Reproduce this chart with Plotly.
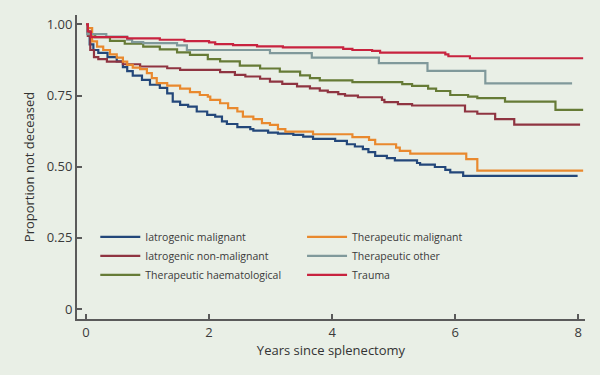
import plotly.graph_objects as go

# ---- data ----
names = ["Iatrogenic malignant", "Iatrogenic non-malignant", "Therapeutic haematological",
         "Therapeutic malignant", "Therapeutic other", "Trauma"]
colors = ["#23477a", "#8f3441", "#667b36", "#e9892e", "#80999b", "#c8233f"]

t_iat_mal = [0, 0.02, 0.06, 0.12, 0.2, 0.35, 0.5, 0.6, 0.67, 0.76, 0.91, 1.04, 1.2, 1.32, 1.41, 1.53,
             1.66, 1.8, 1.97, 2.1, 2.21, 2.29, 2.46, 2.67, 2.72, 2.96, 3.12, 3.37, 3.53, 3.69, 4.05,
             4.24, 4.37, 4.5, 4.59, 4.7, 4.89, 5.02, 5.38, 5.43, 5.67, 5.84, 5.92, 6.13, 7.99]
s_iat_mal = [1.0, 0.975, 0.93, 0.91, 0.9, 0.885, 0.87, 0.85, 0.836, 0.82, 0.805, 0.788, 0.777, 0.758,
             0.729, 0.717, 0.711, 0.694, 0.682, 0.676, 0.659, 0.65, 0.639, 0.632, 0.627, 0.62, 0.616,
             0.612, 0.606, 0.598, 0.591, 0.579, 0.571, 0.562, 0.551, 0.538, 0.53, 0.522, 0.513, 0.507,
             0.499, 0.489, 0.48, 0.468, 0.468]

t_iat_non = [0, 0.03, 0.07, 0.13, 0.2, 0.34, 0.6, 0.88, 1.32, 1.53, 2.18, 2.42, 2.59, 2.83, 2.99, 3.19,
             3.43, 3.64, 3.8, 3.93, 4.1, 4.21, 4.42, 4.81, 4.85, 5.07, 5.3, 6.16, 6.36, 6.65, 6.96, 8.03]
s_iat_non = [1.0, 0.96, 0.91, 0.885, 0.878, 0.869, 0.86, 0.852, 0.846, 0.84, 0.832, 0.823, 0.817, 0.809,
             0.799, 0.791, 0.782, 0.775, 0.767, 0.762, 0.755, 0.75, 0.744, 0.735, 0.727, 0.72, 0.715,
             0.694, 0.686, 0.667, 0.648, 0.648]

t_ther_haem = [0, 0.03, 0.07, 0.15, 0.39, 0.63, 0.93, 1.2, 1.48, 1.69, 1.98, 2.18, 2.5, 2.83, 3.15,
               3.48, 3.64, 3.8, 4.33, 5.14, 5.3, 5.56, 5.69, 5.92, 6.21, 6.36, 6.81, 7.63, 8.08]
s_ther_haem = [1.0, 0.975, 0.965, 0.955, 0.942, 0.932, 0.922, 0.912, 0.902, 0.893, 0.878, 0.87, 0.855,
               0.845, 0.834, 0.821, 0.811, 0.803, 0.797, 0.79, 0.784, 0.774, 0.766, 0.752, 0.746,
               0.741, 0.729, 0.7, 0.7]

t_ther_mal = [0, 0.02, 0.1, 0.18, 0.28, 0.39, 0.5, 0.6, 0.67, 0.76, 0.88, 0.99, 1.07, 1.15, 1.32, 1.53,
              1.69, 1.85, 1.98, 2.02, 2.18, 2.31, 2.46, 2.55, 2.72, 2.86, 2.99, 3.12, 3.24, 3.69, 4.33,
              4.6, 4.7, 5.04, 5.1, 5.27, 6.18, 6.36, 8.08]
s_ther_mal = [1.0, 0.987, 0.94, 0.922, 0.91, 0.895, 0.883, 0.869, 0.858, 0.848, 0.843, 0.829, 0.811,
              0.794, 0.785, 0.774, 0.762, 0.752, 0.746, 0.735, 0.723, 0.706, 0.694, 0.676, 0.667,
              0.653, 0.647, 0.632, 0.623, 0.614, 0.604, 0.594, 0.579, 0.567, 0.556, 0.546, 0.527,
              0.486, 0.486]

t_ther_oth = [0, 0.02, 0.33, 0.67, 0.75, 0.93, 1.48, 1.64, 2.99, 3.67, 4.76, 5.55, 6.49, 7.9]
s_ther_oth = [1.0, 0.966, 0.957, 0.946, 0.938, 0.934, 0.926, 0.91, 0.899, 0.883, 0.864, 0.837, 0.793,
              0.793]

t_trauma = [0, 0.03, 0.08, 0.67, 1.2, 1.6, 2.0, 2.1, 2.39, 2.78, 3.2, 4.18, 4.33, 4.65, 4.78, 5.84,
            5.89, 6.24, 8.08]
s_trauma = [1.0, 0.975, 0.955, 0.951, 0.946, 0.941, 0.937, 0.931, 0.927, 0.923, 0.919, 0.914, 0.91,
            0.907, 0.901, 0.895, 0.888, 0.881, 0.881]

x_ticks = [0, 2, 4, 6, 8]
y_ticks = [0, 0.25, 0.5, 0.75, 1.0]
y_tick_text = ["0", "0.25", "0.50", "0.75", "1.00"]

series = [
    (t_iat_mal, s_iat_mal, "legend"),
    (t_iat_non, s_iat_non, "legend"),
    (t_ther_haem, s_ther_haem, "legend"),
    (t_ther_mal, s_ther_mal, "legend2"),
    (t_ther_oth, s_ther_oth, "legend2"),
    (t_trauma, s_trauma, "legend2"),
]

BG = "#e9efe6"
AX = "#5a5a5a"
FONT = "Open Sans"

fig = go.Figure()
for (t, s, lg), name, col in zip(series, names, colors):
    fig.add_trace(go.Scatter(x=t, y=s, mode="lines", name=name, line=dict(color=col, width=2.2, shape="hv"),
                             legend=lg))

leg_common = dict(bgcolor="rgba(0,0,0,0)", font=dict(family=FONT, size=10.5, color="#3a3a3a"),
                  itemwidth=40, yanchor="top", xanchor="left", tracegroupgap=0)

fig.update_layout(
    width=600, height=375,
    margin=dict(l=77, r=15, t=15, b=56),
    paper_bgcolor=BG, plot_bgcolor=BG,
    font=dict(family=FONT, size=12, color="#333333"),
    legend=dict(x=0.036, y=0.318, **leg_common),
    legend2=dict(x=0.443, y=0.318, **leg_common),
    xaxis=dict(range=[-0.146, 8.11], tickvals=x_ticks, showgrid=False, zeroline=False, automargin=False,
               showline=True, linecolor=AX, linewidth=2, ticks="inside", ticklen=5, tickcolor=AX,
               tickwidth=1.5, tickfont=dict(size=13, color="#3a3a3a"),
               title=dict(text="Years since splenectomy", font=dict(size=13, color="#333333"), standoff=6)),
    yaxis=dict(range=[-0.035, 1.033], tickvals=y_ticks, ticktext=y_tick_text, showgrid=False,
               automargin=False,
               zeroline=False, showline=True, linecolor=AX, linewidth=2, ticks="inside", ticklen=5,
               tickcolor=AX, tickwidth=1.5, tickfont=dict(size=13, color="#3a3a3a"),
               title=dict(text="Proportion not deceased", font=dict(size=13, color="#333333"), standoff=9)),
)

fig.write_html("out.html", config={"displayModeBar": False},
               post_script="document.body.style.margin='0';document.body.style.background='%s';" % BG)
